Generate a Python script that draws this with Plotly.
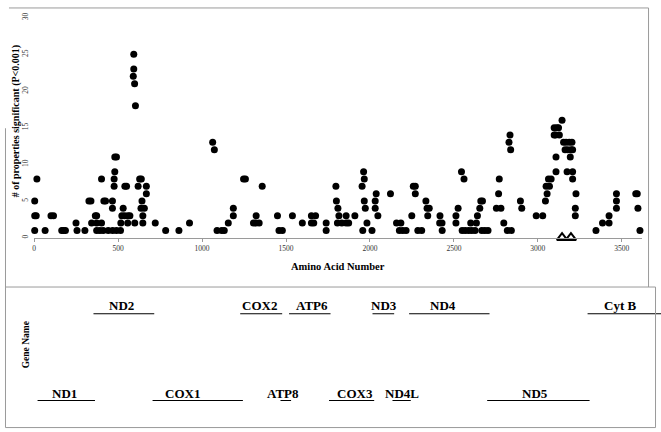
import plotly.graph_objects as go

# ---------------- data ----------------
amino_acid_pos = [
    3, 3, 12, 3, 16, 65, 100, 115, 164, 175, 186, 249, 255, 302,
    326, 338, 342, 364, 372, 372, 372, 391, 401, 401, 411, 415, 425, 441, 466, 466, 467, 476, 476, 480, 480, 490, 490,
    514, 516, 522, 530, 538, 540, 550, 557, 558, 570, 599, 590, 593, 593, 598, 603, 619, 628, 638, 642, 636, 656, 647, 647, 668, 668,
    721, 783, 862, 925, 1063, 1073, 1089, 1117, 1132, 1156, 1186, 1186, 1247, 1258, 1306, 1320, 1340, 1322, 1358, 1449, 1458, 1478,
    1538, 1597, 1651, 1676, 1651, 1665, 1739, 1739, 1797, 1800, 1809, 1815, 1806, 1832, 1858, 1873, 1858, 1910, 1953, 1962, 1966, 1966, 1972, 1957, 1982, 2012, 2037, 2031, 2031, 2047,
    2122, 2158, 2184, 2175, 2195, 2215, 2249, 2258, 2270, 2270, 2285, 2308, 2333, 2340, 2353, 2344, 2417, 2415, 2429, 2430, 2512, 2512, 2525, 2545, 2560, 2549, 2567, 2587, 2606, 2626, 2600, 2634, 2640, 2654, 2660, 2670, 2666, 2684, 2703,
    2753, 2780, 2766, 2770, 2797, 2818, 2842, 2828, 2834, 2838, 2896, 2904, 2990, 3029, 3045, 3055, 3049, 3069, 3063, 3079, 3108, 3108, 3097, 3113, 3123, 3097, 3105, 3128, 3144, 3153, 3168, 3187, 3203, 3162, 3177, 3197, 3207, 3193, 3174, 3207, 3207, 3227, 3223, 3223,
    3346, 3385, 3424, 3424, 3468, 3468, 3468, 3583, 3592, 3596, 3608,
]
n_significant = [
    1, 3, 3, 5, 8, 1, 3, 3, 1, 1, 1, 2, 1, 1,
    5, 5, 2, 3, 3, 2, 1, 1, 2, 8, 1, 5, 5, 1, 4, 5, 1, 7, 8, 9, 11, 11, 1,
    1, 2, 3, 4, 3, 7, 7, 2, 3, 3, 2, 22, 23, 25, 21, 18, 7, 8, 8, 5, 4, 4, 3, 2, 7, 6,
    2, 1, 1, 2, 13, 12, 1, 1, 1, 2, 3, 4, 8, 8, 2, 2, 2, 3, 7, 3, 1, 1,
    3, 2, 3, 3, 2, 2, 2, 1, 7, 5, 4, 3, 2, 2, 2, 2, 3, 3, 7, 9, 8, 5, 4, 1, 2, 1, 6, 5, 4, 3,
    6, 2, 2, 1, 1, 1, 3, 7, 7, 6, 1, 1, 5, 4, 4, 3, 3, 2, 2, 1, 3, 2, 4, 9, 8, 1, 1, 1, 1, 1, 2, 2, 3, 4, 5, 5, 1, 1, 1,
    4, 4, 6, 8, 2, 1, 1, 13, 14, 12, 5, 4, 3, 3, 5, 6, 7, 7, 8, 8, 9, 11, 15, 15, 15, 14, 14, 14, 16, 13, 13, 13, 13, 12, 12, 12, 12, 11, 9, 9, 8, 6, 4, 3,
    1, 2, 3, 2, 6, 5, 4, 6, 6, 4, 1,
]
triangle_pos = [3144, 3197]
triangle_val = [0, 0]

x_ticks = [0, 500, 1000, 1500, 2000, 2500, 3000, 3500]
y_ticks = [0, 5, 10, 15, 20, 25, 30]

gene_names = ["ND1", "ND2", "COX1", "COX2", "ATP8", "ATP6", "COX3", "ND3", "ND4L", "ND4", "ND5", "Cyt B"]
gene_start = [20, 353, 705, 1227, 1467, 1518, 1756, 2015, 2134, 2233, 2698, 3296]
gene_end = [362, 715, 1243, 1477, 1530, 1765, 2025, 2144, 2243, 2712, 3308, 3740]
gene_row = [0, 1, 0, 1, 0, 1, 0, 1, 0, 1, 0, 1]
gene_label_pos = [182, 521, 883, 1340, 1483, 1652, 1908, 2083, 2190, 2433, 2985, 3487]

# ---------------- figure ----------------
W, H = 661, 432
SERIF = "Liberation Serif, Times New Roman, serif"


def px(x):
    return x / W


def py(y):
    return 1 - y / H


fig = go.Figure()

fig.add_trace(go.Scatter(
    x=amino_acid_pos, y=n_significant, mode="markers",
    marker=dict(symbol="circle", size=7, color="black"),
    cliponaxis=False, showlegend=False, hoverinfo="x+y",
))
fig.add_trace(go.Scatter(
    x=triangle_pos, y=triangle_val, mode="markers",
    marker=dict(symbol="triangle-up-open", size=9, color="black", line=dict(width=2, color="black")),
    cliponaxis=False, showlegend=False,
))

# gene segments
gx, gy = [], []
for s, e, r in zip(gene_start, gene_end, gene_row):
    gx += [s, e, None]
    gy += [r, r, None]
fig.add_trace(go.Scatter(
    x=gx, y=gy, mode="lines", xaxis="x2", yaxis="y2",
    line=dict(color="black", width=2), showlegend=False, hoverinfo="skip",
))

annotations = []
for name, lx, r in zip(gene_names, gene_label_pos, gene_row):
    annotations.append(dict(
        x=lx, y=r, xref="x2", yref="y2", text="<b>%s</b>" % name, showarrow=False,
        yanchor="middle", xanchor="center", yshift=8,
        font=dict(family=SERIF, size=13, color="black"),
    ))

annotations += [
    dict(x=px(13.5), y=py(117.5), xref="paper", yref="paper", textangle=-90, showarrow=False,
         xanchor="center", yanchor="middle",
         text="<b># of properties significant (P<0.001)</b>",
         font=dict(family=SERIF, size=10, color="black")),
    dict(x=px(337.5), y=py(265.5), xref="paper", yref="paper", showarrow=False,
         xanchor="center", yanchor="middle",
         text="<b>Amino Acid Number</b>", font=dict(family=SERIF, size=10.5, color="black")),
    dict(x=px(23.5), y=py(344.7), xref="paper", yref="paper", textangle=-90, showarrow=False,
         xanchor="center", yanchor="middle",
         text="<b>Gene Name</b>", font=dict(family=SERIF, size=9.5, color="black")),
]

border = dict(color="#9a9a9a", width=1)
shapes = [
    # top panel
    dict(type="line", xref="paper", yref="paper", x0=px(7), x1=px(648.5), y0=py(3), y1=py(3), line=border),
    dict(type="line", xref="paper", yref="paper", x0=px(648.5), x1=px(648.5), y0=py(3), y1=py(286), line=border),
    dict(type="line", xref="paper", yref="paper", x0=px(3.5), x1=px(3.5), y0=py(125), y1=py(286), line=border),
    # bottom panel
    dict(type="line", xref="paper", yref="paper", x0=px(3.5), x1=px(655.5), y0=py(286), y1=py(286), line=border),
    dict(type="line", xref="paper", yref="paper", x0=px(3.5), x1=px(3.5), y0=py(286), y1=py(428.5), line=border),
    dict(type="line", xref="paper", yref="paper", x0=px(3.5), x1=px(655.5), y0=py(428.5), y1=py(428.5), line=border),
    dict(type="line", xref="paper", yref="paper", x0=px(655.5), x1=px(655.5), y0=py(286), y1=py(428.5), line=border),
]

x0px = 32.3
scale = 0.1684  # px per amino acid
fig.update_layout(
    width=W, height=H, margin=dict(l=0, r=0, t=0, b=0),
    paper_bgcolor="white", plot_bgcolor="rgba(0,0,0,0)",
    showlegend=False,
    xaxis=dict(
        domain=[px(x0px), px(642)], range=[0, (642 - x0px) / scale],
        tickvals=x_ticks, ticks="outside", ticklen=3, tickcolor="#9a9a9a",
        showline=True, linecolor="#9a9a9a", linewidth=1, showgrid=False, zeroline=False,
        tickfont=dict(family=SERIF, size=7.5, color="#333"), anchor="y",
    ),
    yaxis=dict(
        domain=[py(236), py(236 - 30 * 7.44)], range=[0, 30],
        tickvals=y_ticks, tickangle=-90, ticks="", showline=False, showgrid=False, zeroline=False,
        ticklabelstandoff=4,
        tickfont=dict(family=SERIF, size=7.5, color="#333"), anchor="x",
    ),
    xaxis2=dict(
        domain=[px(x0px), 1.0], range=[0, (W - x0px) / scale],
        visible=False, anchor="y2",
    ),
    yaxis2=dict(
        domain=[py(401.7), py(312.7)], range=[0, 1],
        visible=False, anchor="x2",
    ),
    annotations=annotations, shapes=shapes,
)

fig.write_html(
    "out.html",
    config={"displayModeBar": False},
    post_script="document.body.style.margin='0';document.body.style.overflow='hidden';",
)
